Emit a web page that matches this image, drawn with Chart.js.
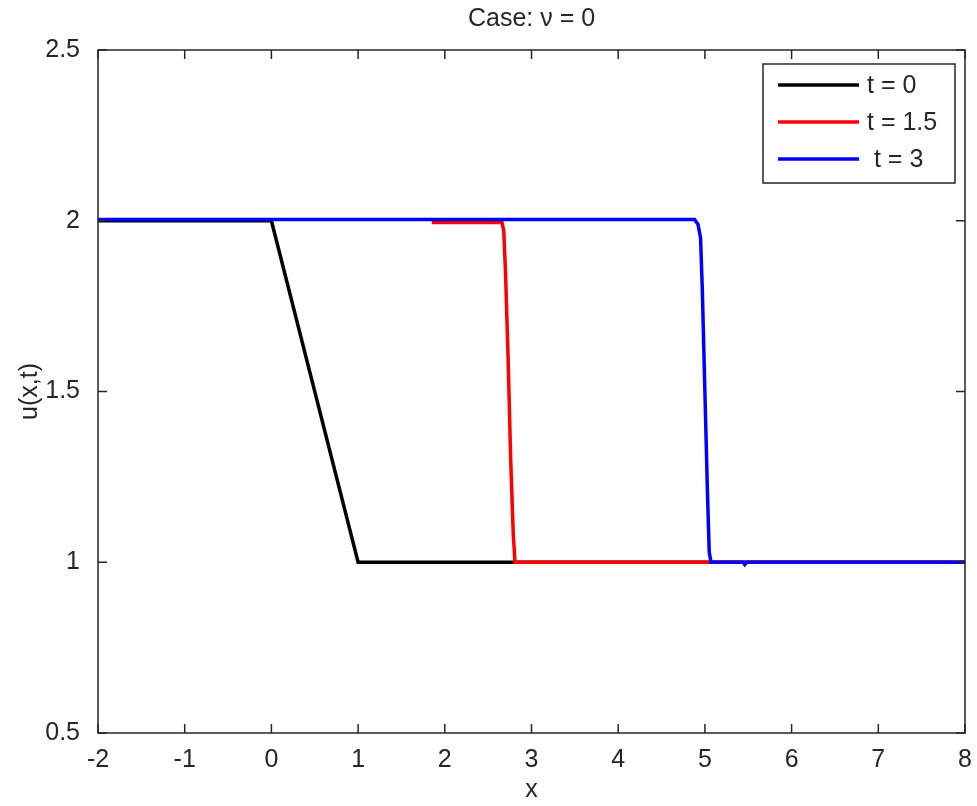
<!DOCTYPE html>
<html>
<head>
<meta charset="utf-8">
<script src="https://cdn.jsdelivr.net/npm/chart.js@4/dist/chart.umd.min.js"></script>
<style>
  html, body { margin: 0; padding: 0; background: #fff; }
</style>
</head>
<body>
<canvas id="c" width="977" height="806"></canvas>
<script>
// axis ticks
const xTicks = [-2, -1, 0, 1, 2, 3, 4, 5, 6, 7, 8];
const yTicks = [0.5, 1, 1.5, 2, 2.5];

// series
const seriesLabels = ["t = 0", "t = 1.5", " t = 3"];
const x0  = [-2, 0, 1, 8];
const u0  = [2, 2, 1, 1];
const x15 = [1.85, 2.66, 2.68, 2.70, 2.73, 2.76, 2.79, 2.81, 8];
const u15 = [1.995, 1.995, 1.97, 1.85, 1.6, 1.3, 1.08, 1, 1];
const x3  = [-2, 4.88, 4.92, 4.95, 4.97, 5.0, 5.03, 5.05, 5.07, 5.44, 5.46, 5.48, 8];
const u3  = [2.004, 2.004, 1.99, 1.95, 1.8, 1.5, 1.2, 1.03, 1, 1, 0.993, 1, 1];

const INK = "#262626";
const FONT = { family: "'Liberation Sans', Arial, sans-serif", size: 25 };
const pts = (xs, ys) => xs.map((x, i) => ({ x, y: ys[i] }));

// MATLAB-ish frame: box, inward ticks, title, legend inside the axes
const frame = {
  id: "frame",
  afterDraw(chart) {
    const { ctx, chartArea: a, scales } = chart;
    ctx.save();
    ctx.strokeStyle = INK;
    ctx.lineWidth = 1.5;
    ctx.strokeRect(a.left, a.top, a.right - a.left, a.bottom - a.top);

    const TL = 9;
    ctx.beginPath();
    scales.x.ticks.forEach(t => {
      const px = scales.x.getPixelForValue(t.value);
      ctx.moveTo(px, a.bottom); ctx.lineTo(px, a.bottom - TL);
      ctx.moveTo(px, a.top);    ctx.lineTo(px, a.top + TL);
    });
    scales.y.ticks.forEach(t => {
      const py = scales.y.getPixelForValue(t.value);
      ctx.moveTo(a.left, py);  ctx.lineTo(a.left + TL, py);
      ctx.moveTo(a.right, py); ctx.lineTo(a.right - TL, py);
    });
    ctx.stroke();

    // title, centred over the axes
    ctx.fillStyle = INK;
    ctx.font = `${FONT.size}px ${FONT.family}`;
    ctx.textAlign = "center";
    ctx.textBaseline = "middle";
    ctx.fillText("Case: \u03bd = 0", (a.left + a.right) / 2, 19);

    // legend
    const bx = a.right - 202, by = a.top + 14, bw = 192, bh = 119;
    ctx.fillStyle = "#fff";
    ctx.fillRect(bx, by, bw, bh);
    ctx.strokeStyle = INK;
    ctx.lineWidth = 1.5;
    ctx.strokeRect(bx, by, bw, bh);
    ctx.textAlign = "left";
    chart.data.datasets.forEach((ds, i) => {
      const y = by + 21 + i * 37;
      ctx.strokeStyle = ds.borderColor;
      ctx.lineWidth = 3.5;
      ctx.beginPath();
      ctx.moveTo(bx + 15, y); ctx.lineTo(bx + 96, y);
      ctx.stroke();
      ctx.fillStyle = INK;
      ctx.fillText(ds.label, bx + 104, y + 1);
    });
    ctx.restore();
  }
};

const line = (label, data, color, order) => ({
  label, data, borderColor: color, backgroundColor: color,
  borderWidth: 3.5, pointRadius: 0, showLine: true, tension: 0, order
});

new Chart(document.getElementById("c"), {
  type: "scatter",
  data: {
    datasets: [
      line(seriesLabels[0], pts(x0, u0), "#000000", 2),
      line(seriesLabels[1], pts(x15, u15), "#ff0000", 1),
      line(seriesLabels[2], pts(x3, u3), "#0000ff", 0)
    ]
  },
  options: {
    responsive: false,
    animation: false,
    layout: { padding: { top: 50, right: 12, left: 0, bottom: 0 } },
    plugins: { legend: { display: false }, tooltip: { enabled: false } },
    scales: {
      x: {
        type: "linear", min: -2, max: 8,
        afterBuildTicks: s => { s.ticks = xTicks.map(v => ({ value: v })); },
        afterFit: s => { s.height = 73; },
        grid: { display: false }, border: { display: false },
        ticks: { font: FONT, color: INK, padding: 4, maxRotation: 0, autoSkip: false, callback: v => String(v) },
        title: { display: true, text: "x", font: FONT, color: INK, padding: { top: 0, bottom: 1 } }
      },
      y: {
        type: "linear", min: 0.5, max: 2.5,
        afterBuildTicks: s => { s.ticks = yTicks.map(v => ({ value: v })); },
        afterFit: s => { s.width = 98; },
        grid: { display: false }, border: { display: false },
        ticks: { font: FONT, color: INK, padding: 10, autoSkip: false, callback: v => String(v) },
        title: { display: true, text: "u(x,t)", font: FONT, color: INK, padding: { top: 15, bottom: 0 } }
      }
    }
  },
  plugins: [frame]
});
</script>
</body>
</html>
